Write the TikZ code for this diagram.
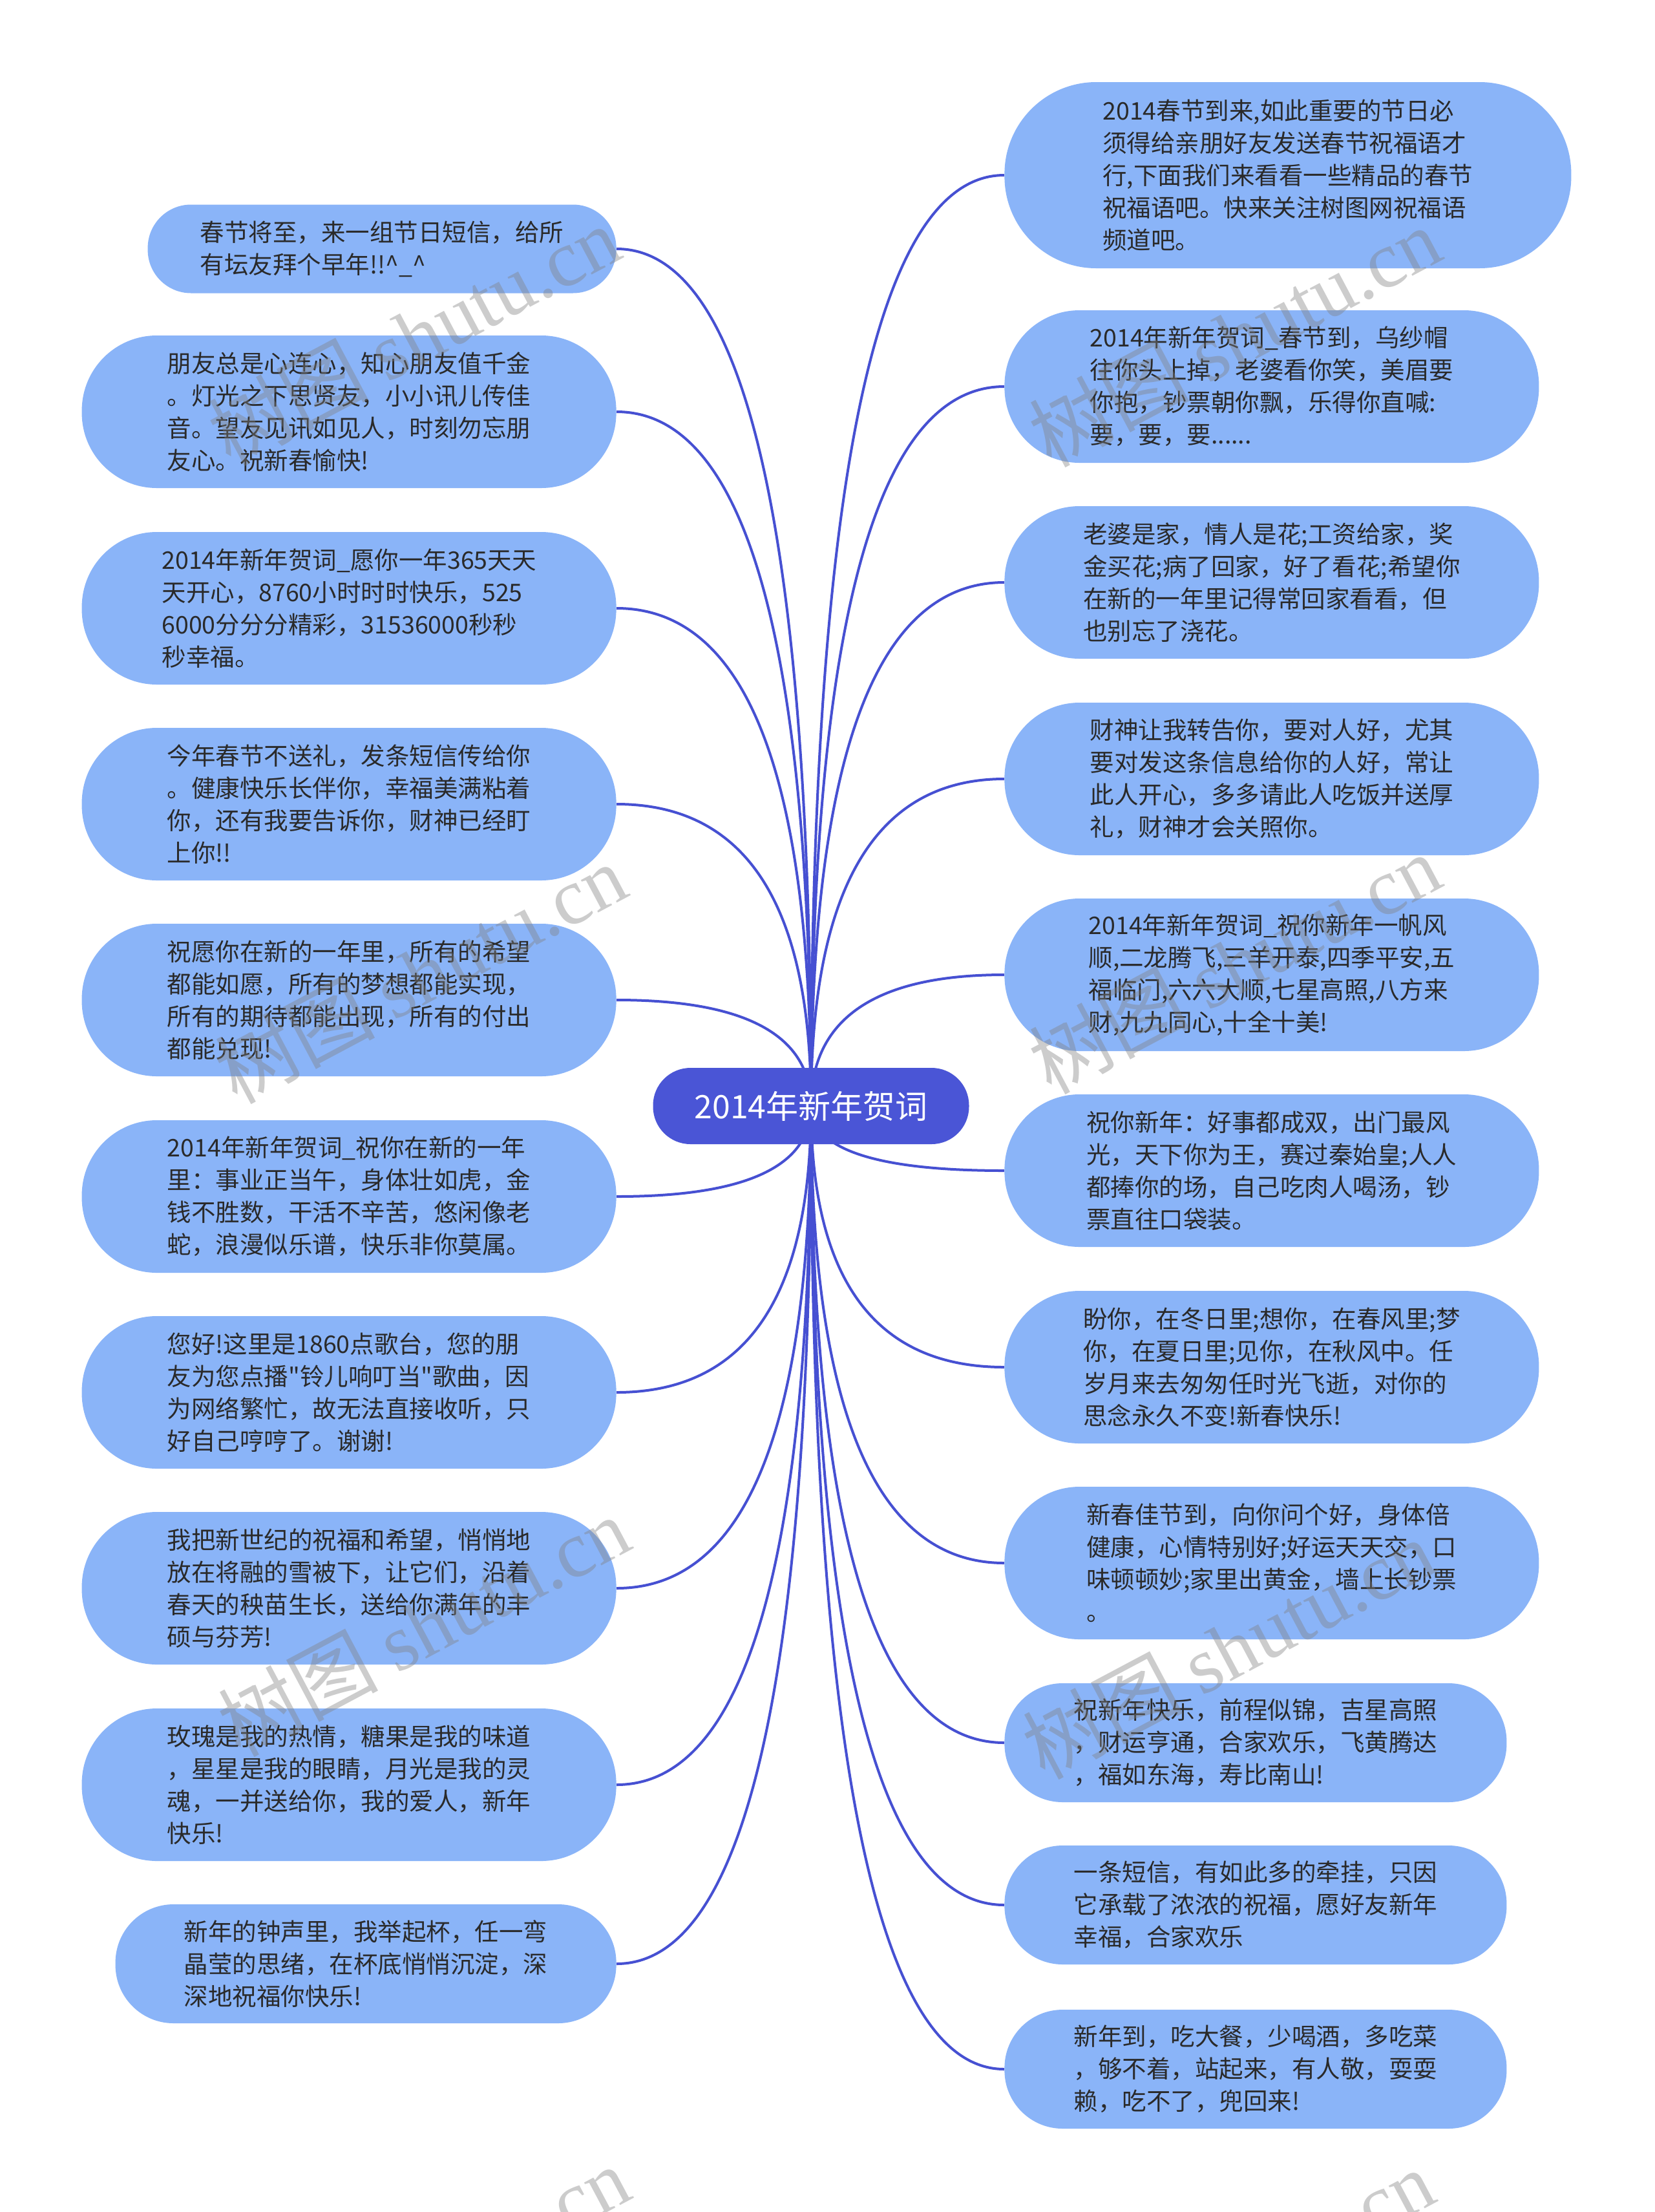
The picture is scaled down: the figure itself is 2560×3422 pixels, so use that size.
\documentclass[tikz,border=0pt]{standalone}
\usepackage{fontspec}
\setmainfont{Noto Sans CJK SC}
\newfontfamily\cjkplain{Noto Sans CJK SC}
\newfontfamily\wmserif{Liberation Serif}
\usetikzlibrary{calc,backgrounds}
\definecolor{leafblue}{HTML}{8AB4F8}
\definecolor{rootblue}{HTML}{4A55D6}
\definecolor{edgeblue}{HTML}{4650D2}
\definecolor{txtc}{HTML}{2A2A2A}
\newcommand\leaffont{\fontsize{18.75}{25}\selectfont}
\newcommand\rootfont{\fontsize{25}{30}\selectfont}
\newcommand\wmtext{树图 {\wmserif shutu.cn}}
\newcommand\sdq{{\cjkplain "}}
\tikzset{
  leafbase/.style={fill=leafblue, text=txtc, inner sep=0pt, align=left, font=\leaffont},
  twol/.style={leafbase, minimum height=68.5pt, rounded corners=33.5pt},
  threel/.style={leafbase, minimum height=92pt, rounded corners=45pt},
  fourl/.style={leafbase, minimum height=118pt, rounded corners=58pt},
  fivel/.style={leafbase, minimum height=144pt, rounded corners=71pt},
  lside/.style={anchor=east},
  rside/.style={anchor=west},
  rootnode/.style={fill=rootblue, text=white, font=\rootfont, inner sep=0pt,
    minimum width=244.5pt, minimum height=59pt, rounded corners=29pt},
  edge/.style={draw=edgeblue, line width=2pt},
  wm/.style={text=black!50, text opacity=0.4, font=\fontsize{62}{62}\selectfont, rotate=28, inner sep=0pt}
}
\begin{document}
\begin{tikzpicture}[x=0.5pt,y=-0.5pt]
\path[use as bounding box] (0,0) rectangle (2560,3422);

\node[rootnode] (root) at (1255,1711) {2014年新年贺词};

% left column
\node[twol, lside, minimum width=362.5pt] (L1) at (954,385) {春节将至，来一组节日短信，给所\\有坛友拜个早年!!\textasciicircum\_\textasciicircum};
\node[fourl, lside, minimum width=413.5pt] (L2) at (954,637) {朋友总是心连心，知心朋友值千金\\。灯光之下思贤友，小小讯儿传佳\\音。望友见讯如见人，时刻勿忘朋\\友心。祝新春愉快!};
\node[fourl, lside, minimum width=413.5pt] (L3) at (954,941) {2014年新年贺词\_愿你一年365天天\\天开心，8760小时时时快乐，525\\6000分分分精彩，31536000秒秒\\秒幸福。};
\node[fourl, lside, minimum width=413.5pt] (L4) at (954,1244) {今年春节不送礼，发条短信传给你\\。健康快乐长伴你，幸福美满粘着\\你，还有我要告诉你，财神已经盯\\上你!!};
\node[fourl, lside, minimum width=413.5pt] (L5) at (954,1547) {祝愿你在新的一年里，所有的希望\\都能如愿，所有的梦想都能实现，\\所有的期待都能出现，所有的付出\\都能兑现!};
\node[fourl, lside, minimum width=413.5pt] (L6) at (954,1851) {2014年新年贺词\_祝你在新的一年\\里：事业正当午，身体壮如虎，金\\钱不胜数，干活不辛苦，悠闲像老\\蛇，浪漫似乐谱，快乐非你莫属。};
\node[fourl, lside, minimum width=413.5pt] (L7) at (954,2154) {您好!这里是1860点歌台，您的朋\\友为您点播\sdq 铃儿响叮当\sdq 歌曲，因\\为网络繁忙，故无法直接收听，只\\好自己哼哼了。谢谢!};
\node[fourl, lside, minimum width=413.5pt] (L8) at (954,2457) {我把新世纪的祝福和希望，悄悄地\\放在将融的雪被下，让它们，沿着\\春天的秧苗生长，送给你满年的丰\\硕与芬芳!};
\node[fourl, lside, minimum width=413.5pt] (L9) at (954,2761) {玫瑰是我的热情，糖果是我的味道\\，星星是我的眼睛，月光是我的灵\\魂，一并送给你，我的爱人，新年\\快乐!};
\node[threel, lside, minimum width=387.5pt] (L10) at (954,3038) {新年的钟声里，我举起杯，任一弯\\晶莹的思绪，在杯底悄悄沉淀，深\\深地祝福你快乐!};

% right column
\node[fivel, rside, minimum width=438.5pt] (R1) at (1554,271) {2014春节到来,如此重要的节日必\\须得给亲朋好友发送春节祝福语才\\行,下面我们来看看一些精品的春节\\祝福语吧。快来关注树图网祝福语\\频道吧。};
\node[fourl, rside, minimum width=413.5pt] (R2) at (1554,598) {2014年新年贺词\_春节到，乌纱帽\\往你头上掉，老婆看你笑，美眉要\\你抱，钞票朝你飘，乐得你直喊:\\要，要，要......};
\node[fourl, rside, minimum width=413.5pt] (R3) at (1554,901) {老婆是家，情人是花;工资给家，奖\\金买花;病了回家，好了看花;希望你\\在新的一年里记得常回家看看，但\\也别忘了浇花。};
\node[fourl, rside, minimum width=413.5pt] (R4) at (1554,1205) {财神让我转告你，要对人好，尤其\\要对发这条信息给你的人好，常让\\此人开心，多多请此人吃饭并送厚\\礼，财神才会关照你。};
\node[fourl, rside, minimum width=413.5pt] (R5) at (1554,1508) {2014年新年贺词\_祝你新年一帆风\\顺,二龙腾飞,三羊开泰,四季平安,五\\福临门,六六大顺,七星高照,八方来\\财,九九同心,十全十美!};
\node[fourl, rside, minimum width=413.5pt] (R6) at (1554,1811) {祝你新年：好事都成双，出门最风\\光，天下你为王，赛过秦始皇;人人\\都捧你的场，自己吃肉人喝汤，钞\\票直往口袋装。};
\node[fourl, rside, minimum width=413.5pt] (R7) at (1554,2115) {盼你，在冬日里;想你，在春风里;梦\\你，在夏日里;见你，在秋风中。任\\岁月来去匆匆任时光飞逝，对你的\\思念永久不变!新春快乐!};
\node[fourl, rside, minimum width=413.5pt] (R8) at (1554,2418) {新春佳节到，向你问个好，身体倍\\健康，心情特别好;好运天天交，口\\味顿顿妙;家里出黄金，墙上长钞票\\。};
\node[threel, rside, minimum width=388.5pt] (R9) at (1554,2696) {祝新年快乐，前程似锦，吉星高照\\，财运亨通，合家欢乐，飞黄腾达\\，福如东海，寿比南山!};
\node[threel, rside, minimum width=388.5pt] (R10) at (1554,2947) {一条短信，有如此多的牵挂，只因\\它承载了浓浓的祝福，愿好友新年\\幸福，合家欢乐};
\node[threel, rside, minimum width=388.5pt] (R11) at (1554,3201) {新年到，吃大餐，少喝酒，多吃菜\\，够不着，站起来，有人敬，耍耍\\赖，吃不了，兜回来!};

\begin{scope}[on background layer]
  \fill[white] (0,0) rectangle (2560,3422);
  \foreach \n in {L1,L2,L3,L4,L5,L6,L7,L8,L9,L10}
    \draw[edge] (root.center) .. controls ($(root.center)!0.6667!(root.center |- \n.east)$) and ($(\n.east)!0.6667!(root.center |- \n.east)$) .. (\n.east);
  \foreach \n in {R1,R2,R3,R4,R5,R6,R7,R8,R9,R10,R11}
    \draw[edge] (root.center) .. controls ($(root.center)!0.6667!(root.center |- \n.west)$) and ($(\n.west)!0.6667!(root.center |- \n.west)$) .. (\n.west);
\end{scope}

% watermarks
\node[wm] (w1) at (640,518) {\wmtext};
\node[wm] (w2) at (1910,520) {\wmtext};
\node[wm] (w3) at (650,1505) {\wmtext};
\node[wm] (w4) at (1910,1490) {\wmtext};
\node[wm] (w5) at (655,2515) {\wmtext};
\node[wm] (w6) at (1900,2550) {\wmtext};
\node[wm] (w7) at (655,3520) {\wmtext};
\node[wm] (w8) at (1900,3525) {\wmtext};
\end{tikzpicture}
\end{document}
